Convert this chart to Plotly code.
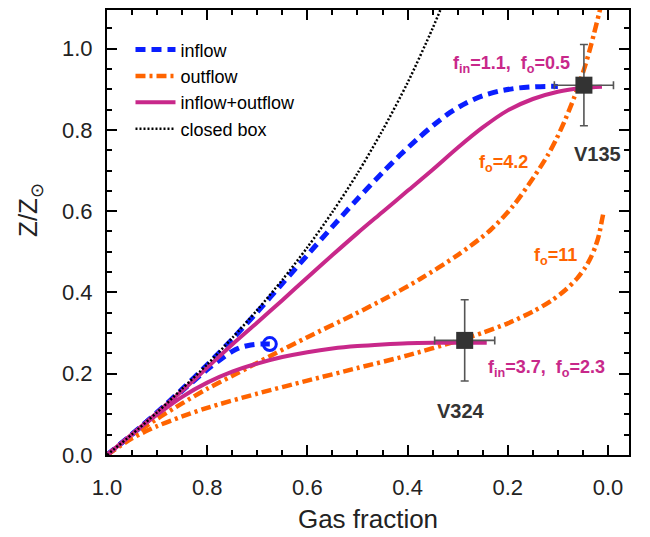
import plotly.graph_objects as go

# ---------------- data ----------------
closed_mu = [1.0, 0.95, 0.9, 0.85, 0.8, 0.75, 0.7, 0.65, 0.6, 0.55, 0.5, 0.45, 0.4, 0.35, 0.33]
closed_z = [0.0, 0.051, 0.105, 0.163, 0.223, 0.288, 0.357, 0.431, 0.511, 0.598, 0.693, 0.799, 0.916, 1.05, 1.109]

inflow1_mu = [1.0, 0.95, 0.9, 0.85, 0.8, 0.75, 0.7, 0.65, 0.6, 0.55, 0.5, 0.45, 0.415, 0.38,
              0.348, 0.315, 0.282, 0.25, 0.215, 0.18, 0.148, 0.125, 0.1]
inflow1_z = [0.0, 0.051, 0.105, 0.162, 0.222, 0.285, 0.352, 0.422, 0.492, 0.562, 0.63, 0.695, 0.738, 0.778,
             0.812, 0.843, 0.867, 0.884, 0.896, 0.903, 0.906, 0.907, 0.907]

inflow2_mu = [1.0, 0.95, 0.9, 0.85, 0.8, 0.77, 0.75, 0.735, 0.72, 0.705, 0.69, 0.675]
inflow2_z = [0.0, 0.051, 0.104, 0.158, 0.21, 0.238, 0.255, 0.264, 0.269, 0.272, 0.273, 0.273]

outflow1_mu = [1.0, 0.95, 0.9, 0.85, 0.8, 0.74, 0.675, 0.6, 0.508, 0.44, 0.375, 0.3, 0.235, 0.19,
               0.148, 0.12, 0.102, 0.085, 0.068, 0.055, 0.045, 0.035, 0.028, 0.018, 0.012]
outflow1_z = [0.0, 0.047, 0.089, 0.127, 0.163, 0.201, 0.243, 0.29, 0.345, 0.388, 0.433, 0.492, 0.553, 0.612,
              0.684, 0.738, 0.78, 0.826, 0.878, 0.922, 0.96, 1.003, 1.036, 1.085, 1.115]

outflow2_mu = [1.0, 0.95, 0.9, 0.85, 0.8, 0.7, 0.6, 0.5, 0.4, 0.3, 0.25, 0.2, 0.15, 0.115, 0.085,
               0.062, 0.045, 0.035, 0.025, 0.018, 0.012, 0.009]
outflow2_z = [0.0, 0.041, 0.071, 0.095, 0.116, 0.151, 0.183, 0.214, 0.245, 0.281, 0.301, 0.324, 0.353,
              0.378, 0.406, 0.434, 0.462, 0.484, 0.513, 0.541, 0.578, 0.596]

both1_mu = [1.0, 0.95, 0.9, 0.85, 0.8, 0.75, 0.7, 0.65, 0.6, 0.55, 0.5, 0.45, 0.4, 0.35,
            0.3, 0.25, 0.2, 0.15, 0.1, 0.05, 0.012]
both1_z = [0.0, 0.051, 0.104, 0.158, 0.215, 0.272, 0.326, 0.381, 0.437, 0.492, 0.546, 0.598, 0.65, 0.702,
           0.756, 0.806, 0.848, 0.876, 0.894, 0.903, 0.906]

both2_mu = [1.0, 0.95, 0.9, 0.85, 0.8, 0.75, 0.7, 0.65, 0.6, 0.55, 0.5, 0.45, 0.4, 0.35, 0.3, 0.242]
both2_z = [0.0, 0.051, 0.099, 0.143, 0.178, 0.205, 0.225, 0.241, 0.253, 0.262, 0.268, 0.272, 0.275,
           0.276, 0.276, 0.276]

gal_names = ["V135", "V324"]
gal_mu = [0.048, 0.286]
gal_z = [0.910, 0.282]
gal_mu_err = [0.059, 0.06]
gal_z_err = [0.1, 0.1]

x_ticks = [1.0, 0.8, 0.6, 0.4, 0.2, 0.0]
y_ticks = [0.0, 0.2, 0.4, 0.6, 0.8, 1.0]

BLUE = "#0a1eff"
ORANGE = "#ff6400"
MAGENTA = "#c8288a"
DARK = "#333333"
FONT = "Liberation Sans"

fig = go.Figure()


def add_line(x, y, color, width, dash, name, show):
    fig.add_trace(go.Scatter(x=x, y=y, mode="lines", name=name, showlegend=show,
                             legendgroup=name,
                             line=dict(color=color, width=width, dash=dash, shape="spline", smoothing=0.8),
                             hoverinfo="skip"))


add_line(inflow1_mu, inflow1_z, BLUE, 5, "10px,6px", "inflow", True)
add_line(inflow2_mu, inflow2_z, BLUE, 5, "10px,6px", "inflow", False)
add_line(outflow1_mu, outflow1_z, ORANGE, 4.5, "10px,4px,3px,4px", "outflow", True)
add_line(outflow2_mu, outflow2_z, ORANGE, 4.5, "10px,4px,3px,4px", "outflow", False)
add_line(both1_mu, both1_z, MAGENTA, 4, "solid", "inflow+outflow", True)
add_line(both2_mu, both2_z, MAGENTA, 4, "solid", "inflow+outflow", False)
add_line(closed_mu, closed_z, "black", 2.5, "2px,2px", "closed box", True)

# open circle at the end of the strong-inflow curve
fig.add_trace(go.Scatter(x=[inflow2_mu[-1]], y=[inflow2_z[-1]], mode="markers", showlegend=False,
                         marker=dict(symbol="circle-open", size=13, color=BLUE, line=dict(width=3, color=BLUE)),
                         hoverinfo="skip"))

# observed galaxies
fig.add_trace(go.Scatter(x=gal_mu, y=gal_z, mode="markers", showlegend=False,
                         marker=dict(symbol="square", size=17, color=DARK),
                         error_x=dict(type="data", array=gal_mu_err, color="#555555", thickness=1.6, width=4),
                         error_y=dict(type="data", array=gal_z_err, color="#555555", thickness=1.6, width=4),
                         hoverinfo="skip"))

annos = [
    dict(x=0.193, y=0.961, text="<b>f<sub>in</sub>=1.1,  f<sub>o</sub>=0.5</b>", color=MAGENTA, size=18),
    dict(x=0.209, y=0.717, text="<b>f<sub>o</sub>=4.2</b>", color=ORANGE, size=18),
    dict(x=0.105, y=0.489, text="<b>f<sub>o</sub>=11</b>", color=ORANGE, size=18),
    dict(x=0.123, y=0.213, text="<b>f<sub>in</sub>=3.7,  f<sub>o</sub>=2.3</b>", color=MAGENTA, size=18),
    dict(x=0.021, y=0.741, text="<b>" + gal_names[0] + "</b>", color=DARK, size=20),
    dict(x=0.293, y=0.109, text="<b>" + gal_names[1] + "</b>", color=DARK, size=20),
]
for a in annos:
    fig.add_annotation(x=a["x"], y=a["y"], xref="x", yref="y", text=a["text"], showarrow=False,
                       font=dict(family=FONT, size=a["size"], color=a["color"]),
                       xanchor="center", yanchor="middle")

# y-axis title
fig.add_annotation(x=-0.148, y=0.55, xref="paper", yref="paper", text="Z/Z<sub>⊙</sub>",
                   textangle=-90, showarrow=False,
                   font=dict(family=FONT, size=26, color="#222222"),
                   xanchor="center", yanchor="middle")

axis_common = dict(showline=True, linecolor="black", linewidth=2, mirror="ticks",
                   ticks="inside", ticklen=10, tickwidth=1.5, tickcolor="black",
                   showgrid=False, zeroline=False,
                   tickfont=dict(family=FONT, size=22, color="#222222"),
                   minor=dict(ticks="inside", ticklen=5, tickwidth=1.5, tickcolor="black", showgrid=False))

fig.update_xaxes(range=[1.0, -0.042], tickvals=x_ticks, tickformat=".1f",
                 minor_dtick=0.05, minor_tick0=0,
                 title=dict(text="Gas fraction", font=dict(family=FONT, size=26, color="#222222"),
                            standoff=10),
                 ticklabelstandoff=12, **axis_common)
fig.update_yaxes(range=[0, 1.095], tickvals=y_ticks, tickformat=".1f",
                 minor_dtick=0.05, minor_tick0=0, ticklabelstandoff=8, **axis_common)

fig.update_layout(
    width=650, height=537,
    margin=dict(l=107, r=21, t=8, b=77),
    paper_bgcolor="white", plot_bgcolor="white",
    legend=dict(x=0.045, y=0.952, xanchor="left", yanchor="top", bgcolor="rgba(0,0,0,0)",
                font=dict(family=FONT, size=18, color="black"),
                tracegroupgap=0, itemwidth=40),
)

fig.write_html("out.html")
